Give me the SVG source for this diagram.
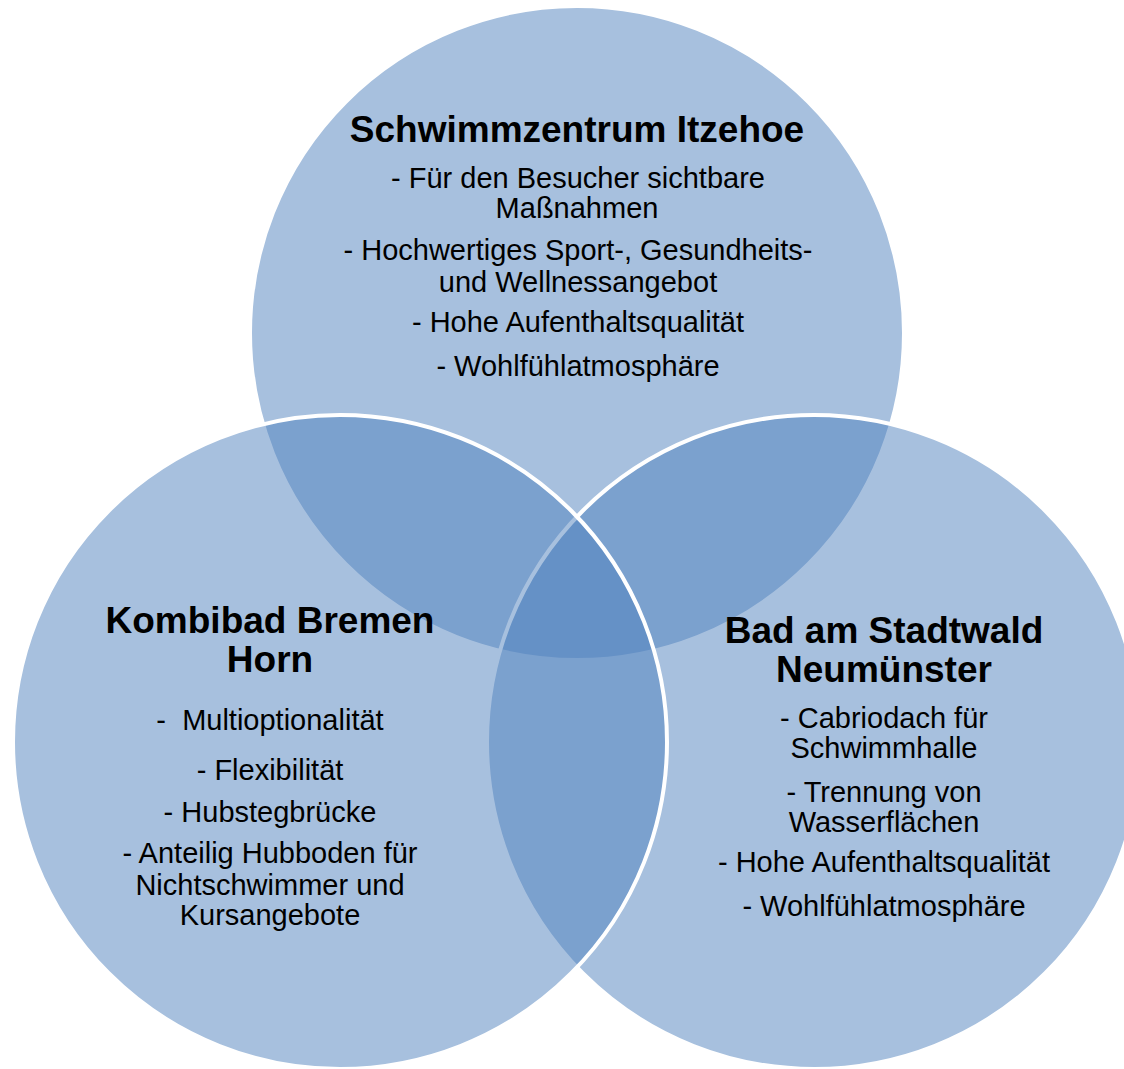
<svg xmlns="http://www.w3.org/2000/svg" width="1124" height="1069" viewBox="0 0 1124 1069">
<style>
.c{fill:#4F81BD;fill-opacity:0.5;stroke:#FFFFFF;stroke-width:4}
.t{font-family:"Liberation Sans",Arial,sans-serif;font-weight:bold;font-size:37px;fill:#000;text-anchor:middle}
.b{font-family:"Liberation Sans",Arial,sans-serif;font-size:29px;fill:#000;text-anchor:middle}
</style>
<rect width="1124" height="1069" fill="#FFFFFF"/>
<g id="node-itzehoe">
<circle class="c" cx="577" cy="333" r="327"/>
<text class="t" x="577" y="142">Schwimmzentrum Itzehoe</text>
<text class="b" x="578" y="188">- Für den Besucher sichtbare</text>
<text class="b" x="577" y="218">Maßnahmen</text>
<text class="b" x="578" y="260">- Hochwertiges Sport-, Gesundheits-</text>
<text class="b" x="578" y="292">und Wellnessangebot</text>
<text class="b" x="578" y="332">- Hohe Aufenthaltsqualität</text>
<text class="b" x="578" y="376">- Wohlfühlatmosphäre</text>
</g>
<g id="node-neumuenster">
<circle class="c" cx="814" cy="742" r="327"/>
<text class="t" x="884" y="643">Bad am Stadtwald</text>
<text class="t" x="884" y="682">Neumünster</text>
<text class="b" x="884" y="728">- Cabriodach für</text>
<text class="b" x="884" y="758">Schwimmhalle</text>
<text class="b" x="884" y="802">- Trennung von</text>
<text class="b" x="884" y="832">Wasserflächen</text>
<text class="b" x="884" y="872">- Hohe Aufenthaltsqualität</text>
<text class="b" x="884" y="916">- Wohlfühlatmosphäre</text>
</g>
<g id="node-bremen">
<circle class="c" cx="340" cy="742" r="327"/>
<text class="t" x="270" y="633">Kombibad Bremen</text>
<text class="t" x="270" y="672">Horn</text>
<text class="b" x="270" y="730" xml:space="preserve">-  Multioptionalität</text>
<text class="b" x="270" y="780">- Flexibilität</text>
<text class="b" x="270" y="822">- Hubstegbrücke</text>
<text class="b" x="270" y="863">- Anteilig Hubboden für</text>
<text class="b" x="270" y="895">Nichtschwimmer und</text>
<text class="b" x="270" y="925">Kursangebote</text>
</g>
</svg>
